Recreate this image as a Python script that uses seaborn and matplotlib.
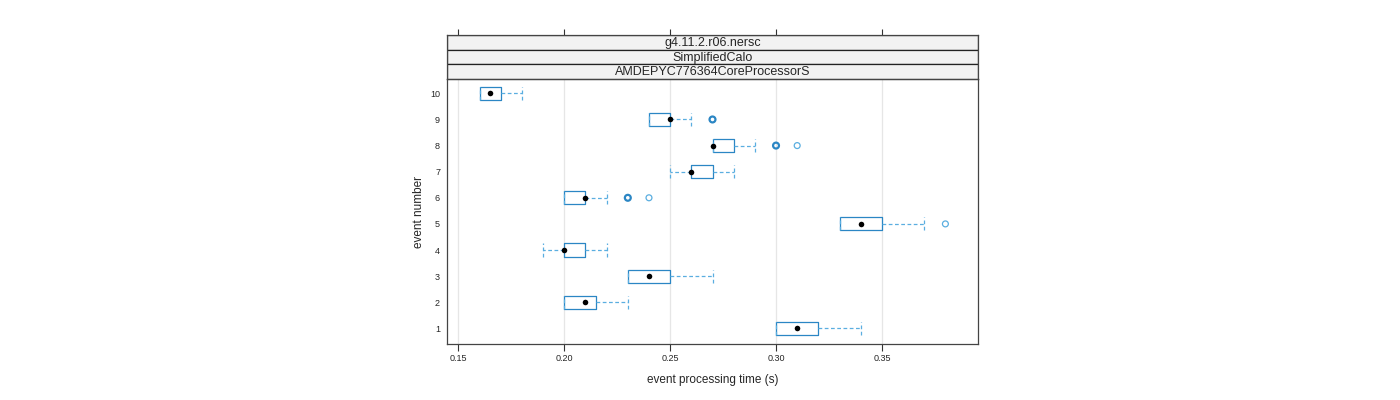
import numpy as np
import pandas as pd
import matplotlib
matplotlib.use("Agg")
import matplotlib.pyplot as plt
import seaborn as sns
from matplotlib.patches import Rectangle
from collections import Counter

# ------------------------------------------------------------
# Datos (tiempos por evento, en segundos)
# ------------------------------------------------------------
event_number = [1, 2, 3, 4, 5, 6, 7, 8, 9, 10]
whisker_low = [0.30, 0.20, 0.23, 0.19, 0.33, 0.20, 0.25, 0.27, 0.24, 0.16]
q1 = [0.30, 0.20, 0.23, 0.20, 0.33, 0.20, 0.26, 0.27, 0.24, 0.16]
median = [0.31, 0.21, 0.24, 0.20, 0.34, 0.21, 0.26, 0.27, 0.25, 0.165]
q3 = [0.32, 0.215, 0.25, 0.21, 0.35, 0.21, 0.27, 0.28, 0.25, 0.17]
whisker_high = [0.34, 0.23, 0.27, 0.22, 0.37, 0.22, 0.28, 0.29, 0.26, 0.18]
outliers = [[], [], [], [], [0.38], [0.23, 0.23, 0.24], [],
            [0.30, 0.30, 0.31], [0.27, 0.27], []]

strip_labels = ["g4.11.2.r06.nersc", "SimplifiedCalo", "AMDEPYC776364CoreProcessorS"]
x_ticks = [0.15, 0.20, 0.25, 0.30, 0.35]
x_label = "event processing time (s)"
y_label = "event number"

BOX_COL = "#2b86c4"
WHISK_COL = "#5aaee0"

sns.set_theme(style="white")
plt.rcParams["font.family"] = ["Liberation Sans", "DejaVu Sans"]

fig = plt.figure(figsize=(14, 4), dpi=100)
W, H = 1400, 400
left, right, top_panel, bottom = 447, 978, 79, 344
strip_top = 35

ax = fig.add_axes([left / W, 1 - bottom / H, (right - left) / W, (bottom - top_panel) / H])
xlim = (0.1446, 0.3954)

stats = []
for i, ev in enumerate(event_number):
    stats.append({"whislo": whisker_low[i], "q1": q1[i], "med": median[i],
                  "q3": q3[i], "whishi": whisker_high[i], "fliers": []})

line_style = (0, (3, 2))
ax.bxp(stats, positions=event_number, widths=0.5, capwidths=0.5,
       orientation="horizontal", showfliers=False, patch_artist=False,
       boxprops=dict(color=BOX_COL, linewidth=0.9),
       whiskerprops=dict(color=WHISK_COL, linewidth=0.9, linestyle=line_style),
       capprops=dict(color=WHISK_COL, linewidth=0.9, linestyle=line_style),
       medianprops=dict(linewidth=0))

# Medianas como puntos negros
med_df = pd.DataFrame({"time": median, "event": event_number})
sns.scatterplot(data=med_df, x="time", y="event", ax=ax, color="black",
                s=16, linewidth=0, zorder=5)

# Valores atipicos: circulos abiertos (mas gruesos si se repiten)
rows = []
for ev, vals in zip(event_number, outliers):
    for v, n in Counter(vals).items():
        rows.append({"time": v, "event": ev, "count": n})
out_df = pd.DataFrame(rows)
for n, grp in out_df.groupby("count"):
    sns.scatterplot(data=grp, x="time", y="event", ax=ax, marker="o",
                    facecolor="none", edgecolor=BOX_COL if n > 1 else WHISK_COL,
                    linewidth=1.6 if n > 1 else 0.9, s=18, zorder=4)

ax.set_xlim(*xlim)
ax.set_ylim(0.4, 10.55)
for t in x_ticks:
    ax.axvline(t, color="#e6e6e6", linewidth=0.9, zorder=0)
ax.set_xticks(x_ticks)
ax.set_xticklabels([f"{t:.2f}" for t in x_ticks], fontsize=6.5)
ax.set_yticks(event_number)
ax.set_yticklabels([str(e) for e in event_number], fontsize=6.5)
ax.tick_params(axis="x", bottom=True, length=5, width=0.8, color="#333333",
               direction="out", pad=2)
ax.tick_params(axis="y", left=False, length=0, pad=5)
ax.set_xlabel(x_label, fontsize=8.5, labelpad=8)
ax.set_ylabel(y_label, fontsize=8.5, labelpad=4)
for s in ax.spines.values():
    s.set_color("#444444")
    s.set_linewidth(0.9)

# Tiras superiores (estilo lattice)
sax = fig.add_axes([left / W, 1 - top_panel / H, (right - left) / W, (top_panel - strip_top) / H])
sax.set_xlim(*xlim)
sax.set_ylim(0, 3)
sax.set_yticks([])
sax.set_xticks(x_ticks)
sax.xaxis.set_ticks_position("top")
sax.tick_params(axis="x", top=True, bottom=False, labeltop=False, labelbottom=False,
                length=4.5, width=0.8, color="#333333", direction="out")
for s in sax.spines.values():
    s.set_color("#444444")
    s.set_linewidth(0.9)
for k, lab in enumerate(strip_labels):
    y0 = 2 - k
    sax.add_patch(Rectangle((xlim[0], y0), xlim[1] - xlim[0], 1, facecolor="#f2f2f2",
                            edgecolor="#222222", linewidth=0.9))
    sax.text(np.mean(xlim), y0 + 0.45, lab, ha="center", va="center", fontsize=9)

fig.savefig("out.png", dpi=100)
